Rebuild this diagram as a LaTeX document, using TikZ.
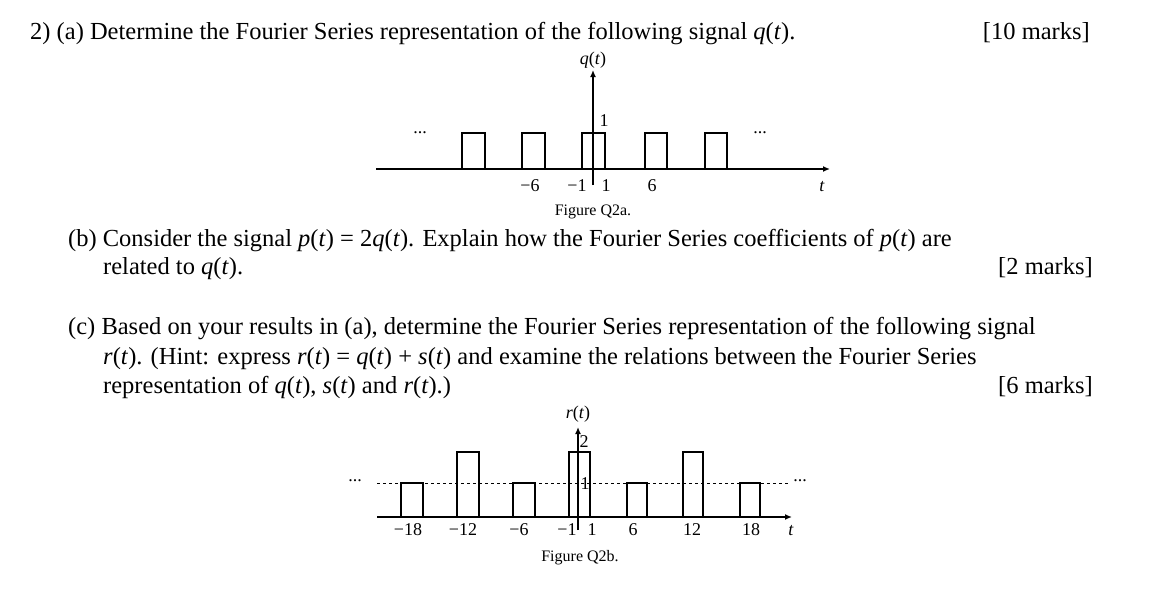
\documentclass[tikz,border=0pt]{standalone}
\usepackage{fontspec}
\setmainfont{Liberation Serif}
\usetikzlibrary{arrows.meta}
\newcommand{\mi}[1]{\textit{#1}}
\begin{document}
\begin{tikzpicture}[x=1pt,y=-1pt,
  txt/.style={anchor=base west,inner sep=0,font=\fontsize{24.5}{28}\selectfont},
  rtxt/.style={anchor=base east,inner sep=0,font=\fontsize{24.5}{28}\selectfont},
  lab/.style={inner sep=0,font=\fontsize{18}{20}\selectfont},
  figcap/.style={inner sep=0,font=\fontsize{16}{18}\selectfont},
  pulse/.style={draw,line width=1.3pt},
  ax/.style={line width=1.6pt,-{Latex[length=7pt,width=6pt]}}]
\useasboundingbox (0,0) rectangle (1150,594);
% text
\node[txt] (l1) at (30,40) {2) (a) Determine the Fourier Series representation of the following signal \mi{q}(\mi{t}).};
\node[rtxt] (m1) at (1090,40) {[10 marks]};
\node[txt] (l2) at (68,246) {(b) Consider the signal \mi{p}(\mi{t}) = 2\mi{q}(\mi{t}). Explain how the Fourier Series coefficients of \mi{p}(\mi{t}) are};
\node[txt] (l3) at (103,274) {related to \mi{q}(\mi{t}).};
\node[rtxt] (m2) at (1093,274) {[2 marks]};
\node[txt] (l4) at (68,334) {(c) Based on your results in (a), determine the Fourier Series representation of the following signal};
\node[txt] (l5) at (103,364) {\mi{r}(\mi{t}). (Hint: express \mi{r}(\mi{t}) = \mi{q}(\mi{t}) + \mi{s}(\mi{t}) and examine the relations between the Fourier Series};
\node[txt] (l6) at (103,393) {representation of \mi{q}(\mi{t}), \mi{s}(\mi{t}) and \mi{r}(\mi{t}).)};
\node[rtxt] (m3) at (1093,393) {[6 marks]};
% figure a
\coordinate (ax0) at (376,169); \coordinate (ax1) at (830,169);
\coordinate (ay0) at (593,185); \coordinate (ay1) at (593,70);
\draw[ax] (ax0) -- (ax1);
\draw[ax] (ay0) -- (ay1);
\foreach \a/\b in {462/485,522/545,582/605,645/667,705/727}
  \draw[pulse] (\a,169) -- (\a,133) -- (\b,133) -- (\b,169);
\node[lab] (qa) at (593,60) {\mi{q}(\mi{t})};
\node[lab] (qone) at (604,121) {1};
\node[lab] (qm6) at (530,186) {−6};
\node[lab] (qm1) at (577,186) {−1};
\node[lab] (qp1) at (606,186) {1};
\node[lab] (qp6) at (652,186) {6};
\node[lab] (qt) at (822,187) {\mi{t}};
\node[lab] (qd1) at (420,133) {...};
\node[lab] (qd2) at (760,133) {...};
\node[figcap] (capa) at (593,212) {Figure Q2a.};
% figure b
\coordinate (bx0) at (377,517); \coordinate (bx1) at (792,517);
\coordinate (by0) at (578,530); \coordinate (by1) at (578,427);
\draw[dashed,line width=0.6pt] (377,483) -- (790,483);
\foreach \a/\b/\h in {401/423/483,457/479/452,513/535/483,569/590/452,627/647/483,683/703/452,740/760/483}
  \draw[pulse] (\a,517) -- (\a,\h) -- (\b,\h) -- (\b,517);
\draw[ax] (bx0) -- (bx1);
\draw[ax] (by0) -- (by1);
\node[lab] (ra) at (578,414) {\mi{r}(\mi{t})};
\node[lab] (rtwo) at (584,442) {2};
\node[lab] (rone) at (585,484) {1};
\foreach \x/\s/\n in {408/−18/a,463/−12/b,519/−6/c,567/−1/d,592/1/e,633/6/f,692/12/g,751/18/h}
  \node[lab] (rl\n) at (\x,530) {\s};
\node[lab] (rt) at (791,531) {\mi{t}};
\node[lab] (rd1) at (355,481) {...};
\node[lab] (rd2) at (800,481) {...};
\node[figcap] (capb) at (580,558) {Figure Q2b.};
\end{tikzpicture}
\end{document}
